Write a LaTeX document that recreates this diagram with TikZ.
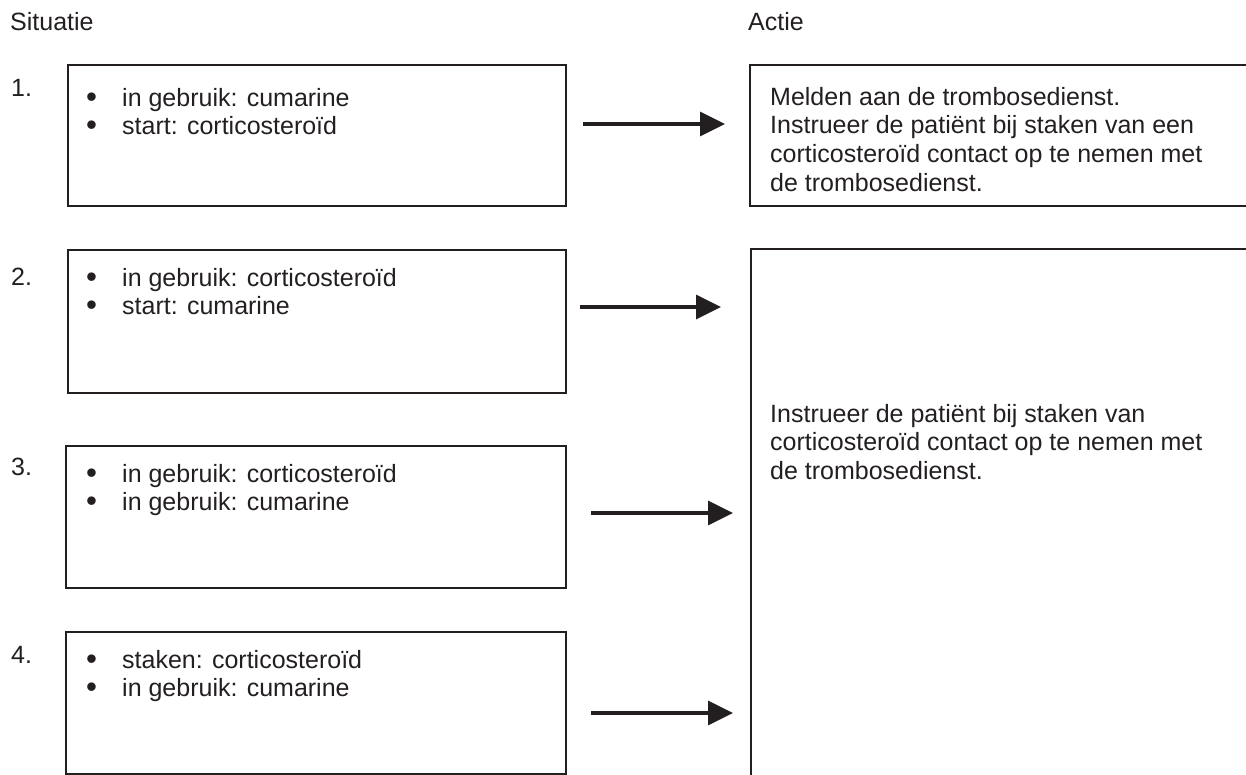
\documentclass[tikz,border=0pt]{standalone}
\usepackage{fontspec}
\usepackage{graphicx}
\setmainfont{Liberation Sans}
\usetikzlibrary{arrows.meta}
\definecolor{ink}{HTML}{231F20}
\newcommand{\itemdot}{\makebox[36pt][l]{\raisebox{-1.2pt}{\scalebox{1.25}{\textbullet}}}}
\begin{document}
\begin{tikzpicture}[x=1pt,y=-1pt,
  box/.style={draw=ink, line width=1.5pt, inner sep=0pt, anchor=north west},
  txt/.style={anchor=base west, inner sep=0pt, text=ink, font=\fontsize{25}{28.75}\selectfont},
  arr/.style={draw=ink, line width=3.2pt, -{Triangle[length=25pt,width=24pt]}}]
\useasboundingbox (0,0) rectangle (1246,774);
\clip (0,0) rectangle (1246,774);
% headings
\node[txt] (h1) at (10,30) {Situatie};
\node[txt] (h2) at (748,30) {Actie};
% numbers
\node[txt] (n1) at (11,96) {1.};
\node[txt] (n2) at (11,285) {2.};
\node[txt] (n3) at (11,475) {3.};
\node[txt] (n4) at (11,663) {4.};
% situation boxes
\node[box, minimum width=498pt, minimum height=141pt] (s1) at (67,64) {};
\node[box, minimum width=498pt, minimum height=143pt] (s2) at (67,249) {};
\node[box, minimum width=500pt, minimum height=142pt] (s3) at (65,445) {};
\node[box, minimum width=500pt, minimum height=142pt] (s4) at (65,631) {};
\node[txt] (b1) at (86,106) {\begin{tabular}[t]{@{}l@{}}\itemdot in gebruik: cumarine\\ \itemdot start: corticosteroïd\end{tabular}};
\node[txt] (b2) at (86,286) {\begin{tabular}[t]{@{}l@{}}\itemdot in gebruik: corticosteroïd\\ \itemdot start: cumarine\end{tabular}};
\node[txt] (b3) at (86,482) {\begin{tabular}[t]{@{}l@{}}\itemdot in gebruik: corticosteroïd\\ \itemdot in gebruik: cumarine\end{tabular}};
\node[txt] (b4) at (86,668) {\begin{tabular}[t]{@{}l@{}}\itemdot staken: corticosteroïd\\ \itemdot in gebruik: cumarine\end{tabular}};
% action boxes
\node[box, minimum width=530pt, minimum height=141pt] (r1) at (749,64) {};
\node[box, minimum width=530pt, minimum height=560pt] (r2) at (750,248) {};
\node[txt] (rt1) at (770,105) {\begin{tabular}[t]{@{}l@{}}Melden aan de trombosedienst.\\ Instrueer de patiënt bij staken van een\\ corticosteroïd contact op te nemen met\\ de trombosedienst.\end{tabular}};
\node[txt] (rt2) at (770,422) {\begin{tabular}[t]{@{}l@{}}Instrueer de patiënt bij staken van\\ corticosteroïd contact op te nemen met\\ de trombosedienst.\end{tabular}};
% arrows
\coordinate (a1s) at (583,124); \coordinate (a1e) at (725,124);
\coordinate (a2s) at (580,307); \coordinate (a2e) at (721,307);
\coordinate (a3s) at (591,513); \coordinate (a3e) at (733,513);
\coordinate (a4s) at (591,713); \coordinate (a4e) at (733,713);
\draw[arr] (a1s) -- (a1e);
\draw[arr] (a2s) -- (a2e);
\draw[arr] (a3s) -- (a3e);
\draw[arr] (a4s) -- (a4e);
\end{tikzpicture}
\end{document}
